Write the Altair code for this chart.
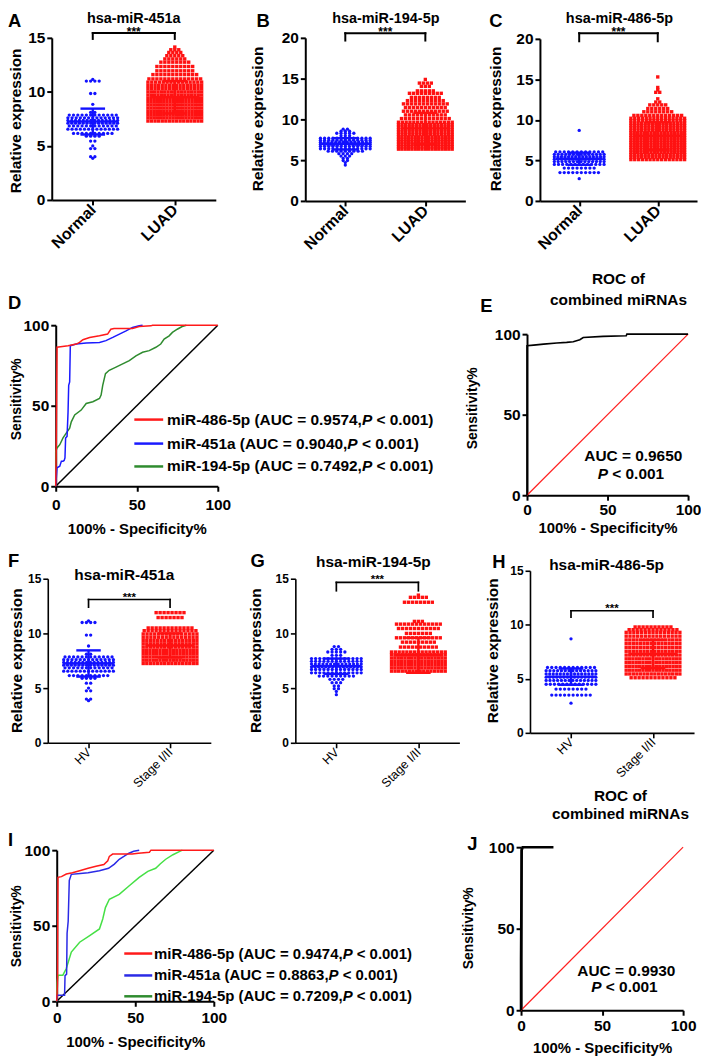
import altair as alt
import pandas as pd

FONT = "Liberation Sans"
BLUE = "#1212ff"
RED = "#ff1212"

# ---------------- dot plots: y value of each row of symbols, number of symbols on that row
N451_LEVELS = [11.15, 11.0, 9.85, 8.85, 8.1, 7.85, 7.6, 7.35, 7.1, 6.85, 6.55, 6.15, 5.9, 5.45, 5.0, 4.75, 4.0, 3.85]
N451_COUNTS = [1, 4, 2, 1, 2, 12, 13, 14, 14, 12, 13, 10, 4, 2, 1, 2, 2, 1]
L451_LEVELS = [7.3, 7.6, 7.9, 8.2, 8.5, 8.8, 9.1, 9.4, 9.7, 10.0, 10.3, 10.6, 10.9, 11.2, 11.6, 11.95, 12.35, 12.75, 13.05, 13.35, 13.65, 13.9, 14.15]
L451_COUNTS = [16, 18, 18, 18, 18, 18, 18, 18, 17, 17, 16, 16, 15, 14, 12, 10, 10, 8, 6, 5, 4, 3, 1]
S451_LEVELS = [7.25, 7.55, 7.85, 8.15, 8.45, 8.75, 9.05, 9.35, 9.65, 9.95, 10.25, 10.5, 11.45, 11.9]
S451_COUNTS = [16, 17, 17, 17, 17, 16, 16, 16, 15, 15, 14, 12, 7, 8]

N194_LEVELS = [8.8, 8.55, 8.3, 8.0, 7.7, 7.45, 7.2, 6.95, 6.7, 6.4, 6.1, 5.8, 5.5, 5.2, 4.95, 4.7, 4.4]
N194_COUNTS = [2, 3, 5, 3, 13, 13, 14, 15, 13, 13, 9, 4, 3, 2, 2, 1, 1]
L194_LEVELS = [6.35, 6.65, 6.95, 7.25, 7.55, 7.85, 8.15, 8.45, 8.75, 9.05, 9.35, 9.65, 10.1, 10.55, 11.0, 11.45, 11.9, 12.3, 12.7, 13.2, 13.5, 14.05, 14.45, 14.9]
L194_COUNTS = [17, 17, 17, 17, 17, 17, 16, 16, 16, 16, 16, 15, 13, 11, 12, 11, 12, 10, 8, 9, 5, 3, 4, 1]
S194_LEVELS = [6.55, 6.85, 7.15, 7.45, 7.75, 8.05, 8.3, 8.75, 9.2, 9.6, 10.0, 10.45, 10.85, 11.1, 12.85, 13.3, 13.5]
S194_COUNTS = [16, 17, 17, 17, 17, 16, 15, 10, 9, 12, 7, 11, 12, 3, 8, 5, 1]

N486_LEVELS = [8.7, 6.05, 5.75, 5.45, 5.15, 4.85, 4.5, 4.05, 3.5, 2.75]
N486_COUNTS = [1, 12, 14, 15, 15, 14, 13, 8, 10, 1]
L486_LEVELS = [5.1, 5.4, 5.7, 6.0, 6.3, 6.6, 6.9, 7.2, 7.5, 7.8, 8.1, 8.4, 8.7, 9.0, 9.3, 9.6, 9.9, 10.2, 10.55, 11.0, 11.4, 11.85, 12.2, 12.6, 13.4, 13.7, 14.0, 15.3]
L486_COUNTS = [15, 16, 16, 17, 17, 17, 17, 17, 17, 17, 17, 17, 16, 16, 16, 16, 15, 15, 13, 8, 6, 5, 2, 1, 2, 1, 1, 1]
S486_LEVELS = [5.1, 5.45, 5.8, 6.15, 6.5, 6.85, 7.2, 7.55, 7.9, 8.25, 8.6, 8.95, 9.3, 9.55, 9.8]
S486_COUNTS = [12, 16, 17, 17, 17, 17, 16, 16, 16, 16, 16, 15, 15, 13, 10]

# mean and SD of each group (control, tumour)
A_MEAN = [7.25, 9.5]
A_SD = [1.2, 1.5]
B_MEAN = [7.0, 8.9]
B_SD = [0.7, 1.9]
C_MEAN = [5.2, 8.0]
C_SD = [0.75, 1.7]
F_MEAN = [7.25, 8.9]
F_SD = [1.2, 1.1]
G_MEAN = [7.0, 8.0]
G_SD = [0.7, 1.6]
H_MEAN = [5.2, 7.3]
H_SD = [0.75, 1.3]

CATS_1 = ["Normal", "LUAD"]
CATS_2 = ["HV", "Stage I/II"]

# ---------------- ROC curves (100% - specificity, sensitivity)
D_RED_X = [0, 0.3, 0.8, 3, 7.6, 12.7, 14.7, 16.8, 20.9, 27, 32, 34, 36, 47.4, 51.5, 58.7, 59.7, 100]
D_RED_Y = [0, 22, 86.3, 86.6, 87.3, 88.3, 89.3, 91, 92.4, 93.4, 94.5, 97.5, 98, 98, 99.2, 99.6, 100, 100]
D_BLUE_X = [0, 0.8, 2.5, 3.5, 4.5, 5.2, 5.7, 6.1, 7, 7.6, 8, 8.6, 9, 12.7, 18.8, 27, 31, 35.2, 39.3, 43.4, 47.4, 51.5, 53.6]
D_BLUE_Y = [0, 11.5, 12.5, 15.6, 15.6, 16, 17.6, 30, 31, 46, 62.7, 64.8, 87.3, 88.3, 89, 89.3, 90.4, 92.4, 94.5, 96.5, 98.6, 99.6, 100]
D_GREEN_X = [0, 0, 0.8, 2.5, 4.5, 6.5, 8.6, 9.6, 11.7, 15.7, 18.8, 22.9, 27, 28, 29, 30.7, 33, 37.2, 41.3, 45.4, 49.5, 53.6, 57.7, 61.8, 64.8, 66.9, 70, 72, 75, 78, 80.6]
D_GREEN_Y = [0, 21.7, 23.8, 25.8, 30, 33, 36, 40, 44.3, 47.3, 51.4, 52.5, 54.5, 56.6, 62.7, 69.9, 72, 74, 76, 78, 81, 83.2, 84.2, 86.3, 88.3, 91.4, 93.4, 95.5, 97.5, 99.2, 100]
D_LEGEND = ["miR-486-5p (AUC = 0.9574,", "miR-451a (AUC = 0.9040,", "miR-194-5p (AUC = 0.7492,"]

E_X = [0, 0, 4.1, 10.3, 18.5, 24.6, 28.7, 32.8, 34.9, 47.2, 61.6, 62, 100]
E_Y = [0, 92.8, 93.2, 93.8, 94.5, 94.9, 95.3, 96.5, 97.9, 98.6, 99, 100, 100]
E_AUC = "AUC = 0.9650"

I_RED_X = [0, 0.5, 0.8, 3, 6.1, 10, 14.6, 20, 25, 30, 32.5, 33.5, 35.6, 48, 52, 59, 60, 100]
I_RED_Y = [0, 12, 82, 82.5, 84.2, 85, 86.4, 88, 89.3, 90.5, 93, 95.9, 97.4, 97.4, 98, 98.6, 100, 100]
I_BLUE_X = [0, 0.3, 5, 5.3, 6.3, 6.6, 7.3, 8, 9.3, 15, 20, 27.2, 33, 36.7, 39.8, 43, 46, 49, 52.5]
I_BLUE_Y = [0, 4, 4, 17, 18, 45, 53, 80, 84, 84.5, 85, 86.4, 88, 90.8, 94, 96, 98, 99.3, 100]
I_GREEN_X = [0, 0.3, 0.8, 3.9, 6.1, 9.3, 14.6, 21, 27.2, 29.3, 31, 33.5, 39.8, 46, 52.5, 58, 63, 66, 69.4, 74, 78, 80]
I_GREEN_Y = [0, 12, 17.3, 17.3, 21.7, 32.6, 39.1, 43.5, 47.9, 54.5, 62, 67.5, 70.8, 76.3, 82, 86, 88, 91, 94, 97, 99, 100]
I_LEGEND = ["miR-486-5p (AUC = 0.9474,", "miR-451a (AUC = 0.8863,", "miR-194-5p (AUC = 0.7209,"]

J_X = [0, 0, 0.4, 1, 20]
J_Y = [0, 31, 98, 100, 100]
J_AUC = "AUC = 0.9930"

P_TEXT = "P"
P_REST = " < 0.001"

# ---------------- helpers
ONE = pd.DataFrame({"k": [0]})
WID = {'m': 889, 'i': 278, 'R': 722, '-': 333, 'p': 611, ' ': 278, '(': 333, ')': 333,
       'A': 722, 'U': 722, 'C': 722, '=': 584, '.': 278, ',': 278, 'P': 667, '<': 584, 'a': 556}


def tw(s, fs):
    return sum(WID.get(c, 556) for c in s) * fs / 1000.0


def label(text, px, py, size, weight="bold", align="left", baseline="top"):
    return alt.Chart(ONE).mark_text(text=text, font=FONT, fontSize=size, fontWeight=weight,
                                    align=align, baseline=baseline, color="black").encode(
        x=alt.value(px), y=alt.value(py))


def swarm(levels, counts, center, ppu, gap, half):
    xs, ys = [], []
    for lv, n in zip(levels, counts):
        span = min((n - 1) * gap, 2 * half)
        for k in range(n):
            off = 0 if n == 1 else -span / 2 + span * k / (n - 1)
            xs.append(center + off / ppu)
            ys.append(lv)
    return pd.DataFrame({"x": xs, "y": ys})


def common_axis(lsize, dw, lweight="bold"):
    return dict(labelFont=FONT, labelFontSize=lsize, labelFontWeight=lweight, labelColor="black",
                labelFlush=False, tickSize=5, tickWidth=dw, tickColor="black",
                domainColor="black", domainWidth=dw, grid=False)


def mixed(parts, x, y, X, Y, fs, center=False, color="black"):
    total = sum(tw(t, fs) for t, _ in parts)
    cur = -total / 2 if center else 0
    out = []
    for t, it in parts:
        lead = len(t) - len(t.lstrip(" "))
        dx = cur + tw(" " * lead, fs)
        cur += tw(t, fs)
        out.append(alt.Chart(pd.DataFrame({"x": [x], "y": [y]})).mark_text(
            text=t.strip(), dx=dx, align="left", baseline="middle", font=FONT, fontSize=fs,
            fontWeight="bold", fontStyle="italic" if it else "normal", color=color).encode(x=X(), y=Y()))
    return out


def scatter_panel(ox, oy, w, h, ymax, yticks, cats, blv, bct, rlv, rct, means, sds, br_top, br_end,
                  title, tpos, letter, lpos, ytpos, big):
    dw = 2 if big else 1.6
    xs = alt.Scale(domain=[0, 2], range=[ox, ox + w], nice=False, zero=False)
    ys = alt.Scale(domain=[0, ymax], range=[oy + h, oy], nice=False, zero=False)
    xa = alt.Axis(values=[0.5, 1.5], labelExpr=f"{cats}[round(datum.value - 0.5)]",
                  labelAngle=315, labelAlign="right", labelBaseline="middle", labelPadding=2,
                  **common_axis(16 if big else 12.5, dw, "bold" if big else "normal"))
    ya = alt.Axis(values=yticks, labelPadding=2, offset=-ox, title="Relative expression",
                  titleFont=FONT, titleFontSize=15.5, titleFontWeight="bold", titleColor="black",
                  titleAngle=270, titleAlign="center", titleBaseline="middle", titleX=ytpos[0],
                  titleY=ytpos[1] + oy, **common_axis(15.5 if big else 12, dw))

    def X(f="x"):
        return alt.X(f, type="quantitative", scale=xs, axis=xa, title=None)

    def Y(f="y"):
        return alt.Y(f, type="quantitative", scale=ys, axis=ya, title="Relative expression")

    ppu = w / 2.0
    blue = alt.Chart(swarm(blv, bct, 0.5, ppu, 4.3, 25)).mark_circle(
        size=11, color=BLUE, opacity=1).encode(x=X(), y=Y())
    red = alt.Chart(swarm(rlv, rct, 1.5, ppu, 4.0, 27)).mark_square(
        size=11.5, color=RED, opacity=1).encode(x=X(), y=Y())
    segs = []
    for c, m, s, col in [(0.5, means[0], sds[0], BLUE), (1.5, means[1], sds[1], RED)]:
        segs += [dict(x=c - 0.3, x2=c + 0.3, y=m, y2=m, c=col),
                 dict(x=c, x2=c, y=m - s, y2=m + s, c=col),
                 dict(x=c - 0.15, x2=c + 0.15, y=m + s, y2=m + s, c=col),
                 dict(x=c - 0.15, x2=c + 0.15, y=m - s, y2=m - s, c=col)]
    stats = alt.Chart(pd.DataFrame(segs)).mark_rule(strokeWidth=2.4).encode(
        x=X(), x2="x2", y=Y(), y2="y2", color=alt.Color("c:N", scale=None))
    brk = pd.DataFrame([dict(x=0.5, x2=0.5, y=br_end, y2=br_top),
                        dict(x=0.5, x2=1.5, y=br_top, y2=br_top),
                        dict(x=1.5, x2=1.5, y=br_end, y2=br_top)])
    bracket = alt.Chart(brk).mark_rule(strokeWidth=2 if big else 1.7, color="black",
                                       strokeCap="square").encode(x=X(), x2="x2", y=Y(), y2="y2")
    stars = alt.Chart(pd.DataFrame({"x": [1.0], "y": [br_top]})).mark_text(
        text="***", font=FONT, fontSize=12 if big else 11.5, fontWeight="bold", align="center",
        baseline="alphabetic", dy=3 if big else 1, color="black").encode(x=X(), y=Y())
    ttl = label(title, tpos[0] + ox, tpos[1] + oy, 14.5 if big else 15.5, align="center")
    let = label(letter, lpos[0] + ox, lpos[1] + oy, 18.5)
    return alt.layer(blue, red, stats, bracket, stars, ttl, let).properties(width=ox + w, height=oy + h)


def roc_panel(ox, oy, w, h, curves, legend, auc, titles, letter, lpos, xlabpad, xty, ytpos, diag):
    xs = alt.Scale(domain=[0, 100], range=[ox, ox + w], nice=False, zero=False)
    ys = alt.Scale(domain=[0, 100], range=[oy + h, oy], nice=False, zero=False)
    xa = alt.Axis(values=[0, 50, 100], labelPadding=xlabpad, title="100% - Specificity%",
                  titleFont=FONT, titleFontSize=15, titleFontWeight="bold", titleColor="black",
                  titleY=xty, titleBaseline="middle", **common_axis(15.5, 2))
    ya = alt.Axis(values=[0, 50, 100], labelPadding=2, offset=-ox, title="Sensitivity%",
                  titleFont=FONT, titleFontSize=14, titleFontWeight="bold", titleColor="black",
                  titleAngle=270, titleAlign="center", titleBaseline="middle", titleX=ytpos[0],
                  titleY=ytpos[1] + oy, **common_axis(15.5, 2))

    def X(f="x"):
        return alt.X(f, type="quantitative", scale=xs, axis=xa, title="100% - Specificity%")

    def Y(f="y"):
        return alt.Y(f, type="quantitative", scale=ys, axis=ya, title="Sensitivity%")

    layers = []
    dcol, dwid = diag
    layers.append(alt.Chart(pd.DataFrame({"x": [0, 100], "y": [0, 100], "i": [0, 1]})).mark_line(
        color=dcol, strokeWidth=dwid).encode(x=X(), y=Y(), order="i:Q"))
    for cx, cy, col, sw in curves:
        df = pd.DataFrame({"x": cx, "y": cy, "i": list(range(len(cx)))})
        layers.append(alt.Chart(df).mark_line(color=col, strokeWidth=sw).encode(
            x=X(), y=Y(), order="i:Q"))
    if legend:
        x0, x1, xt, rows, fs = legend
        for txt, col, yy in rows:
            layers.append(alt.Chart(pd.DataFrame({"x": [x0], "x2": [x1], "y": [yy]})).mark_rule(
                color=col, strokeWidth=2.5).encode(x=X(), x2="x2", y=Y()))
            layers += mixed([(txt, False), (P_TEXT, True), (P_REST + ")", False)], xt, yy, X, Y, fs)
    if auc:
        text, ax, ay, px, py = auc
        layers += mixed([(text, False)], ax, ay, X, Y, 15.5, center=True)
        layers += mixed([(P_TEXT, True), (P_REST, False)], px, py, X, Y, 15.5, center=True)
    for t, px, py in titles:
        layers.append(label(t, px + ox, py + oy, 15.5, align="center", baseline="alphabetic"))
    layers.append(label(letter, lpos[0] + ox, lpos[1] + oy, 18.5))
    return alt.layer(*layers).properties(width=ox + w, height=oy + h)


# ---------------- panels (ox, oy = offset of the plot inside its grid cell)
A = scatter_panel(4, 0, 165, 163, 15, [0, 5, 10, 15], CATS_1, N451_LEVELS, N451_COUNTS, L451_LEVELS,
                  L451_COUNTS, A_MEAN, A_SD, 15.45, 14.9, "hsa-miR-451a", (82.5, -26), "A",
                  (-44, -26), (-36, 83), True)
B = scatter_panel(10, 0, 161, 164, 20, [0, 5, 10, 15, 20], CATS_1, N194_LEVELS, N194_COUNTS,
                  L194_LEVELS, L194_COUNTS, B_MEAN, B_SD, 20.57, 19.67, "hsa-miR-194-5p", (81, -26),
                  "B", (-49, -26), (-48.5, 81), True)
C = scatter_panel(19, 1, 158, 163, 20, [0, 5, 10, 15, 20], CATS_1, N486_LEVELS, N486_COUNTS,
                  L486_LEVELS, L486_COUNTS, C_MEAN, C_SD, 20.7, 19.7, "hsa-miR-486-5p", (80, -27),
                  "C", (-51, -27), (-44.5, 80), True)
F = scatter_panel(0, 8, 164, 165, 15, [0, 5, 10, 15], CATS_2, N451_LEVELS, N451_COUNTS, S451_LEVELS,
                  S451_COUNTS, F_MEAN, F_SD, 13.1, 12.4, "hsa-miR-451a", (77, -11), "F",
                  (-40, -27), (-31.5, 82), False)
G = scatter_panel(0, 8, 165, 165, 15, [0, 5, 10, 15], CATS_2, N194_LEVELS, N194_COUNTS, S194_LEVELS,
                  S194_COUNTS, G_MEAN, G_SD, 14.66, 13.9, "hsa-miR-194-5p", (78.5, -24), "G",
                  (-45, -27), (-40.5, 82), False)
H = scatter_panel(9, 0, 165, 163, 15, [0, 5, 10, 15], CATS_2, N486_LEVELS, N486_COUNTS, S486_LEVELS,
                  S486_COUNTS, H_MEAN, H_SD, 11.3, 10.7, "hsa-miR-486-5p", (77, -13), "H",
                  (-38, -18), (-38, 80), False)

D = roc_panel(8, 0, 163, 162,
              [(D_GREEN_X, D_GREEN_Y, "#2e8b2e", 1.5), (D_BLUE_X, D_BLUE_Y, "#1a1aff", 1.5),
               (D_RED_X, D_RED_Y, "#ff1a1a", 1.5)],
              (48.5, 66.3, 68.7, [(D_LEGEND[0], "#ff1a1a", 41.4), (D_LEGEND[1], "#1a1aff", 26.5),
                                  (D_LEGEND[2], "#2e8b2e", 12.3)], 15.5),
              None, [], "D", (-48, -31), 6, 43, (-39.5, 74), ("black", 1.5))
E = roc_panel(6, 9, 162, 162, [(E_X, E_Y, "black", 1.6)], None,
              (E_AUC, 66, 24.1, 64.5, 13), [("ROC of", 92, -50), ("combined miRNAs", 92, -29)],
              "E", (-47, -37), 2, 32, (-55, 74), ("#ff2020", 1.2))
I = roc_panel(9, 3, 158, 152,
              [(I_GREEN_X, I_GREEN_Y, "#45e045", 1.5), (I_BLUE_X, I_BLUE_Y, "#2a2ae6", 1.5),
               (I_RED_X, I_RED_Y, "#ff1a1a", 1.5)],
              (43, 60.8, 62, [(I_LEGEND[0], "#ff1a1a", 31.6), (I_LEGEND[1], "#2a2ae6", 17.1),
                              (I_LEGEND[2], "#2e8b2e", 3.3)], 15),
              None, [], "I", (-49, -19), 4, 40, (-40.5, 76), ("black", 1.5))
J = roc_panel(0, 0, 163, 164, [(J_X, J_Y, "black", 2.6)], None,
              (J_AUC, 65, 24.1, 63.8, 14), [("ROC of", 100, -46), ("combined miRNAs", 100, -28)],
              "J", (-54, -12), 3, 37, (-52.5, 81), ("#ff2020", 1.2))

# ---------------- grid: spacer rows/columns fix the gaps, panel rows/columns hold the panels
EMPTY = pd.DataFrame({"s": []})


def sp(w=1, h=1):
    return alt.Chart(EMPTY).mark_point(opacity=0, size=1).properties(width=w, height=h)


COL_W = {0: 40, 2: 78, 4: 56}
ROW_H = {0: 26, 2: 125, 4: 76, 6: 105}
PANELS = {(1, 1): A, (1, 3): B, (1, 5): C, (3, 1): D, (3, 5): E,
          (5, 1): F, (5, 3): G, (5, 5): H, (7, 1): I, (7, 5): J}

cells = []
for r in range(8):
    for c in range(6):
        if (r, c) in PANELS:
            cells.append(PANELS[(r, c)])
        else:
            cells.append(sp(COL_W.get(c, 1), ROW_H.get(r, 1)))

chart = alt.concat(*cells, columns=6, spacing=0, bounds="flush", align="each").properties(
    padding=0, background="white").configure_view(strokeWidth=0)

chart.save("out.html", embed_options={"renderer": "svg", "actions": False})
